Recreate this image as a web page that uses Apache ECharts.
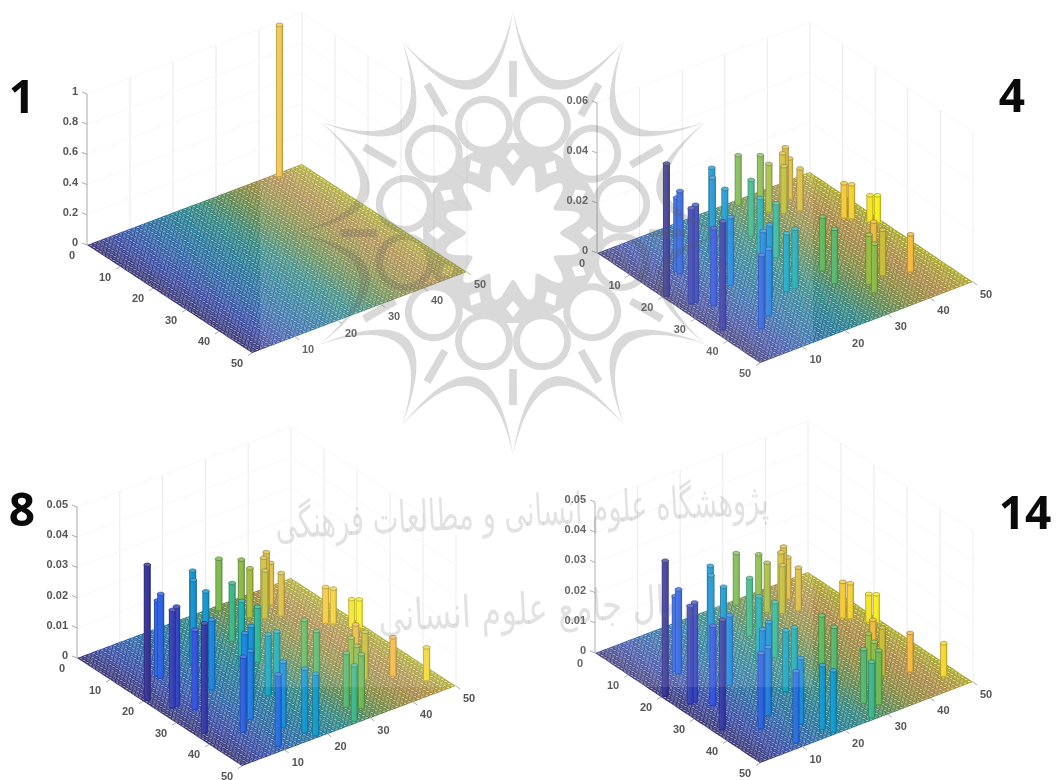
<!DOCTYPE html>
<html><head><meta charset="utf-8">
<style>html,body{margin:0;padding:0;background:#fff}#c{width:1057px;height:780px}</style>
<script src="https://cdn.jsdelivr.net/npm/echarts@6/dist/echarts.min.js"></script>
</head><body><div id="c"></div>
<script>
// ---------- data ----------
const ROWS = [20,15,14,25,25,13,14.5,17,1.5,7,7,12,20,21,5.5,6,5.5,10,9,17,18,21,22,30,38,40,30,35,39,42,32,32,37,32,40,34,24,28,36,43,48,47,49,44,49,46,45];
const COLS = [1,8,8,4,3,17,16,17,32,33,35,27,23,26,40,39,41,40,37,45,46,48,49,42,38,43,30,29,34,33,20,22,12,16,8,13,13,6,2,15,10,17,18,29,27,31,47];
const VALUES_4 = [.0527,.0328,.0293,.0387,.0380,.0345,.0325,.0296,.0197,.0239,.0191,.0223,.0247,.0215,.0212,.0199,.0161,.0167,.0187,.0137,.0135,.0105,.0107,.0117,.0181,.0148,.0215,.0217,.0196,.0193,.0231,.0236,.0265,.0292,.0292,.0303,.0271,.0307,.0431,0,0,0,0,0,0,0,0];
const VALUES_8 = [.0446,.0277,.0248,.0328,.0322,.0292,.0277,.0252,.0170,.0201,.0162,.0191,.0210,.0182,.0178,.0168,.0137,.0141,.0158,.0118,.0115,.0091,.0092,.0103,.0157,.0127,.0182,.0186,.0166,.0166,.0201,.0200,.0225,.0250,.0248,.0257,.0230,.0262,.0362,.0216,.0236,.0211,.0203,.0178,.0183,.0177,.0108];
const VALUES_14 = [.0446,.0277,.0248,.0328,.0322,.0292,.0277,.0252,.0170,.0201,.0162,.0191,.0210,.0182,.0178,.0168,.0137,.0141,.0158,.0118,.0115,.0091,.0092,.0103,.0157,.0127,.0182,.0186,.0166,.0166,.0201,.0200,.0225,.0250,.0248,.0257,.0230,.0262,.0362,.0216,.0236,.0211,.0203,.0178,.0183,.0177,.0108];
const ROWS_1 = [1], COLS_1 = [44], VALUES_1 = [1];
const FLOOR_TICKS = [0,10,20,30,40,50];
const Z_TICKS_1 = [0,0.2,0.4,0.6,0.8,1];
const Z_TICKS_4 = [0,0.02,0.04,0.06];
const Z_TICKS_8 = [0,0.01,0.02,0.03,0.04,0.05];
const Z_TICKS_14 = [0,0.01,0.02,0.03,0.04,0.05];
const PANEL_NAMES = ['1','4','8','14'];
const WM_LINE_1 = 'پژوهشگاه علوم انسانی و مطالعات فرهنگی';
const WM_LINE_2 = 'پرتال جامع علوم انسانی';

// ---------- layout & style ----------
const W=1057,H=780;
const PANELS = [
 {o:[87,245],  av:[165,108], bv:[215,-81], zPx:151, zMax:1,   zt:Z_TICKS_1,  r:ROWS_1, c:COLS_1, v:VALUES_1},
 {o:[597,253], av:[163,110], bv:[213,-81], zPx:150, zMax:.06, zt:Z_TICKS_4,  r:ROWS,   c:COLS,   v:VALUES_4},
 {o:[77,658],  av:[165,108], bv:[214,-80], zPx:151, zMax:.05, zt:Z_TICKS_8,  r:ROWS,   c:COLS,   v:VALUES_8},
 {o:[595,653], av:[165,110], bv:[213,-81], zPx:151, zMax:.05, zt:Z_TICKS_14, r:ROWS,   c:COLS,   v:VALUES_14}
];
const NAME_POS = [[22,100],[1012,99],[22,513],[1025,516]];
const STOPS = [[0,'#352a87'],[.12,'#3050e0'],[.25,'#1a80e0'],[.38,'#0c9fc8'],[.5,'#22b5a0'],[.62,'#6cb850'],[.74,'#c0bc30'],[.86,'#f5b93c'],[.94,'#f5d82c'],[1,'#f9fb0e']];
const hex = s => [1,3,5].map(i=>parseInt(s.substr(i,2),16));
const rgb = a => 'rgb('+a.map(x=>Math.round(x)).join(',')+')';
const mix = (a,b,t) => a.map((x,i)=>x+(b[i]-x)*t);
function parula(t){ t=Math.max(0,Math.min(1,t));
  for(let i=1;i<STOPS.length;i++) if(t<=STOPS[i][0]){
    const p=STOPS[i-1],q=STOPS[i]; return mix(hex(p[1]),hex(q[1]),(t-p[0])/(q[0]-p[0])); }
  return hex(STOPS[STOPS.length-1][1]);
}
const WHITE=[255,255,255], BLACK=[20,20,30], SLATE=[100,100,125];

const grids=[],xAxes=[],yAxes=[],series=[];
PANELS.forEach((P,pi)=>{
  grids.push({left:0,top:0,width:W,height:H,containLabel:false,show:false});
  xAxes.push({type:'value',gridIndex:pi,min:-P.o[0],max:W-P.o[0],show:false});
  yAxes.push({type:'value',gridIndex:pi,min:-P.o[1],max:H-P.o[1],inverse:true,show:false});
  // projection of (row, col, height) into the panel's plane
  const proj=(a,b,z)=>[P.av[0]*a/50+P.bv[0]*b/50, P.av[1]*a/50+P.bv[1]*b/50-(z||0)/P.zMax*P.zPx];
  const base={type:'custom',xAxisIndex:pi,yAxisIndex:pi,coordinateSystem:'cartesian2d',silent:true,animation:false,clip:false,progressive:0};

  // walls: faint grid + z axis
  const wallLines=[];
  [10,20,30,40,50].forEach(t=>{ wallLines.push([[0,t,0],[0,t,P.zMax],'#e9e9e9']); if(t<50) wallLines.push([[t,50,0],[t,50,P.zMax],'#e9e9e9']); });
  wallLines.push([[50,50,0],[50,50,P.zMax],'#efefef']);
  P.zt.forEach(z=>{ if(z>0){ wallLines.push([[0,0,z],[0,50,z],'#f8f8f8']); wallLines.push([[0,50,z],[50,50,z],'#f8f8f8']); }});
  wallLines.push([[0,0,0],[0,0,P.zMax],'#a8a8a8']);
  series.push(Object.assign({},base,{name:'walls'+pi,z:1,data:wallLines.map((_,i)=>[i]),
    renderItem(params,api){ const L=wallLines[params.dataIndex];
      const p=api.coord(proj(...L[0])),q=api.coord(proj(...L[1]));
      return {type:'line',shape:{x1:p[0],y1:p[1],x2:q[0],y2:q[1]},style:{stroke:L[2],lineWidth:1}}; }}));

  // floor of zero-height bars
  const cells=[]; for(let a=0;a<50;a++) for(let b=0;b<50;b++) cells.push([a,b]);
  series.push(Object.assign({},base,{name:'floor'+pi,z:2,data:cells,
    renderItem(params,api){ const a=api.value(0),b=api.value(1);
      const col=mix(parula((b+.5)/50),SLATE,.2);
      const c=(x,y)=>api.coord(proj(x,y,0));
      const pts=[c(a,b),c(a+1,b),c(a+1,b+1),c(a,b+1)];
      const d=[c(a+.5,b+.2),c(a+.8,b+.5),c(a+.5,b+.8),c(a+.2,b+.5)];
      return {type:'group',children:[
        {type:'polygon',shape:{points:pts},style:{fill:rgb(mix(col,BLACK,.28))}},
        {type:'polygon',shape:{points:d},style:{fill:rgb(mix(col,WHITE,.5))}}
      ]}; }}));

  // bars, painted back to front
  const order=P.v.map((_,i)=>i).filter(i=>P.v[i]>0).sort((i,j)=>(P.av[1]*P.r[i]+P.bv[1]*P.c[i])-(P.av[1]*P.r[j]+P.bv[1]*P.c[j]));
  series.push(Object.assign({},base,{name:'bars'+pi,z:3,data:order.map(i=>[P.r[i],P.c[i],P.v[i]]),
    renderItem(params,api){ const a=api.value(0),b=api.value(1),v=api.value(2);
      const p=api.coord(proj(a,b,0)),q=api.coord(proj(a,b,v)),w=7;
      const col=parula(b/50);
      const grad=new echarts.graphic.LinearGradient(0,0,1,0,[
        {offset:0,color:rgb(mix(col,BLACK,.35))},{offset:.2,color:rgb(mix(col,WHITE,.06))},
        {offset:.75,color:rgb(col)},{offset:1,color:rgb(mix(col,BLACK,.4))}]);
      return {type:'group',children:[
        {type:'ellipse',shape:{cx:p[0],cy:p[1],rx:w/2,ry:1.7},style:{fill:rgb(mix(col,BLACK,.2))}},
        {type:'rect',shape:{x:p[0]-w/2,y:q[1],width:w,height:p[1]-q[1]},style:{fill:grad}},
        {type:'ellipse',shape:{cx:q[0],cy:q[1],rx:w/2,ry:1.8},style:{fill:rgb(mix(col,WHITE,.2)),stroke:rgb(mix(col,BLACK,.4)),lineWidth:.7}}
      ]}; }}));

  // tick marks and labels
  const items=[];
  P.zt.forEach(z=>items.push({pt:[0,0,z],dx:-9,dy:-2,text:String(z),align:'right',tick:[-5,-2]}));
  FLOOR_TICKS.forEach(t=>items.push({pt:[t,0,0],dx:-15,dy:11,text:String(t),align:'center',tick:t?[-4,2.5]:null}));
  FLOOR_TICKS.forEach(t=>{ if(t) items.push({pt:[50,t,0],dx:13,dy:13,text:String(t),align:'center',tick:[4,3]}); });
  series.push(Object.assign({},base,{name:'axis'+pi,z:4,data:items.map((_,i)=>[i]),
    renderItem(params,api){ const it=items[params.dataIndex],p=api.coord(proj(...it.pt));
      const ch=[{type:'text',x:p[0]+it.dx,y:p[1]+it.dy,style:{text:it.text,align:it.align,verticalAlign:'middle',font:'bold 11px "Liberation Sans"',fill:'#555'}}];
      if(it.tick) ch.push({type:'line',shape:{x1:p[0],y1:p[1],x2:p[0]+it.tick[0],y2:p[1]+it.tick[1]},style:{stroke:'#aaa',lineWidth:1}});
      return {type:'group',children:ch}; }}));
});

// ---------- watermark ----------
const C=[513,233], D=Math.PI/180;
const pol=(r,t)=>[C[0]+r*Math.sin(t*D),C[1]-r*Math.cos(t*D)];
const f=p=>p[0].toFixed(1)+' '+p[1].toFixed(1);
let path='';
for(let k=0;k<12;k++){
  const t=30*k,p0=pol(222,t),p1=pol(222,t+30);
  path+='M'+f(p0)+'Q'+f(pol(104,t+15))+' '+f(p1)+'Q'+f(pol(84,t+15))+' '+f(p0)+'Z';
  path+='M'+f(pol(172,t-1.3))+'L'+f(pol(172,t+1.3))+'L'+f(pol(136,t+1.6))+'L'+f(pol(136,t-1.6))+'Z';
  const ct=pol(112,t+15);
  const ring=(R,dir)=>{let s='';for(let i=0;i<=36;i++){const a=dir*i*10*D;s+=(i?'L':'M')+(ct[0]+R*Math.sin(a)).toFixed(1)+' '+(ct[1]-R*Math.cos(a)).toFixed(1);}return s+'Z';};
  path+=ring(29,1)+ring(22,-1);
}
let s1='',s2='';
for(let i=0;i<=240;i++){ const t=i*1.5;
  s1+=(i?'L':'M')+f(pol(90,t));
  s2+=(i?'L':'M')+f(pol(58+11*Math.cos(12*(t-15)*D),-t));
}
path+=s1+'Z'+s2+'Z';
for(let k=0;k<12;k++){ const t=30*k;
  path+='M'+f(pol(84,t))+'L'+f(pol(76,t-5))+'L'+f(pol(68,t))+'L'+f(pol(76,t+5))+'Z';
}
series.push({type:'custom',name:'watermark',coordinateSystem:'cartesian2d',xAxisIndex:0,yAxisIndex:0,silent:true,animation:false,clip:false,z:51,data:[[0,0]],
  renderItem(){ return {type:'path',shape:{pathData:path},style:{fill:'rgba(90,90,90,0.23)'}}; }});
const graphics=[
 {type:'rect',z:50,silent:true,shape:{x:260,y:0,width:553,height:687},style:{fill:'rgba(255,255,255,0.1)'}},
 {type:'text',z:52,silent:true,x:522,y:515,rotation:0.05,scaleX:.72,scaleY:1.15,style:{text:WM_LINE_1,x:0,y:0,align:'center',verticalAlign:'middle',font:'38px "DejaVu Sans"',fill:'rgba(110,110,110,0.2)'}},
 {type:'text',z:52,silent:true,x:540,y:612,rotation:0.05,scaleX:.85,scaleY:1.15,style:{text:WM_LINE_2,x:0,y:0,align:'center',verticalAlign:'middle',font:'38px "DejaVu Sans"',fill:'rgba(110,110,110,0.2)'}}
];
PANEL_NAMES.forEach((n,i)=>graphics.push({type:'text',z:60,silent:true,style:{text:n,x:NAME_POS[i][0],y:NAME_POS[i][1],align:'center',verticalAlign:'middle',font:'bold 46px "Open Sans"',fill:'#0a0a0a'}}));

const chart=echarts.init(document.getElementById('c'),null,{renderer:'canvas'});
chart.setOption({animation:false,backgroundColor:'#fff',grid:grids,xAxis:xAxes,yAxis:yAxes,series:series,graphic:{elements:graphics}});
</script></body></html>
